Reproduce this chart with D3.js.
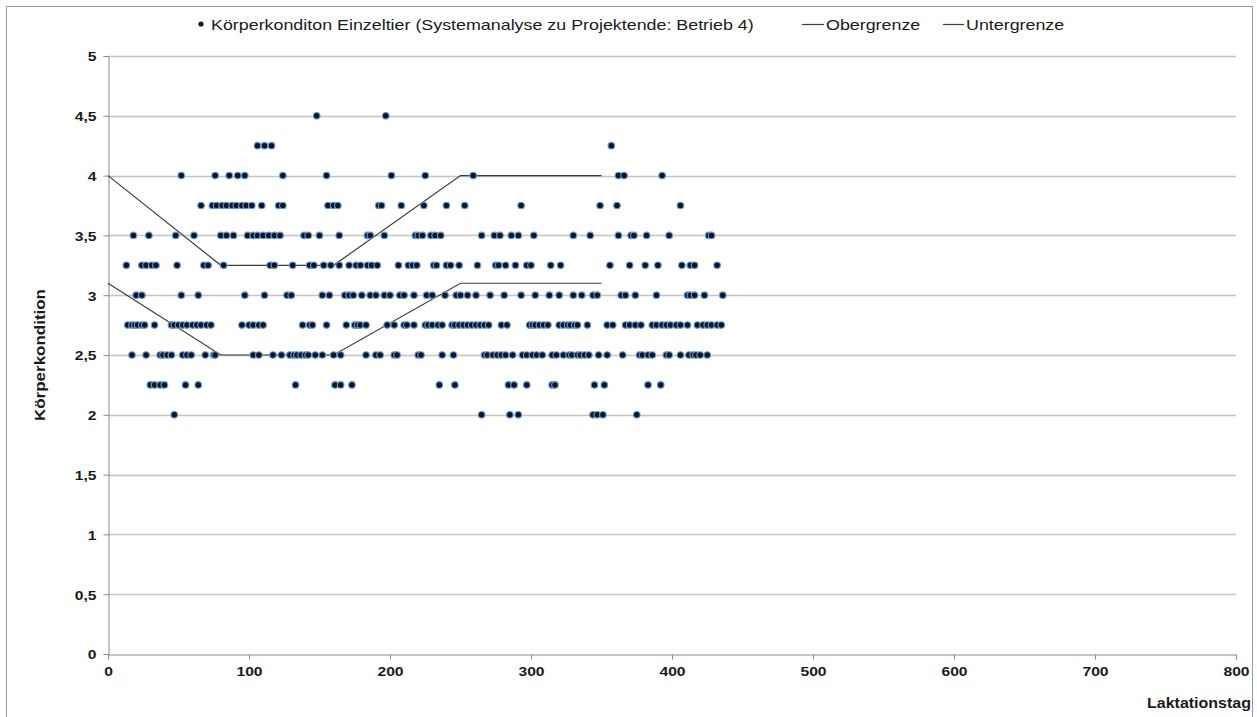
<!DOCTYPE html>
<html>
<head>
<meta charset="utf-8">
<script src="https://cdn.jsdelivr.net/npm/d3@7/dist/d3.min.js"></script>
<style>
  html, body { margin: 0; padding: 0; background: #fff; }
  svg { display: block; font-family: "Liberation Sans", Arial, sans-serif; }
</style>
</head>
<body>
<svg id="chart" width="1257" height="717"></svg>
<script>
// Body condition scores of individual cows, grouped by score level (Laktationstag values)
const bcs450 = [148, 197];
const bcs425 = [106, 111, 116, 357];
const bcs400 = [52, 76, 86, 92, 97, 124, 155, 201, 225, 259, 362, 366, 393];
const bcs375 = [66, 74, 77, 81, 84, 88, 91, 95, 98, 102, 109, 121, 124, 156, 160, 163, 192, 194, 208, 224, 240, 253, 293, 349, 361, 406];
const bcs350 = [18, 29, 48, 61, 80, 84, 89, 99, 103, 106, 110, 114, 118, 122, 139, 142, 150, 164, 184, 186, 196, 218, 220, 223, 229, 232, 236, 265, 274, 278, 286, 291, 302, 330, 342, 362, 371, 373, 382, 398, 426, 428];
const bcs325 = [13, 24, 27, 31, 34, 49, 68, 71, 82, 115, 118, 131, 143, 146, 153, 158, 164, 171, 176, 179, 184, 187, 191, 206, 213, 216, 219, 231, 233, 240, 243, 249, 262, 275, 277, 282, 289, 297, 300, 314, 321, 356, 370, 381, 390, 407, 413, 416, 432];
const bcs300 = [20, 24, 52, 64, 97, 111, 127, 130, 152, 157, 168, 171, 174, 180, 186, 190, 196, 200, 207, 210, 217, 226, 230, 239, 247, 250, 255, 261, 271, 281, 293, 303, 313, 320, 330, 336, 344, 347, 364, 367, 374, 389, 411, 413, 416, 423, 436];
const bcs275 = [14, 17, 19, 21, 24, 26, 33, 45, 47, 50, 53, 56, 60, 63, 66, 70, 73, 95, 100, 103, 107, 110, 138, 143, 145, 155, 169, 175, 177, 179, 183, 198, 203, 210, 212, 217, 225, 227, 230, 234, 237, 244, 246, 249, 252, 255, 258, 261, 264, 267, 270, 279, 283, 299, 301, 303, 306, 309, 312, 320, 323, 326, 328, 331, 333, 340, 354, 358, 367, 370, 374, 378, 386, 389, 393, 396, 399, 403, 406, 411, 418, 422, 425, 428, 432, 435];
const bcs250 = [17, 27, 37, 39, 42, 45, 53, 56, 59, 69, 75, 76, 103, 107, 117, 123, 129, 132, 134, 137, 140, 142, 147, 152, 160, 165, 183, 190, 193, 203, 205, 220, 222, 237, 245, 267, 269, 273, 276, 279, 282, 287, 294, 297, 301, 304, 308, 315, 318, 323, 327, 329, 333, 335, 338, 341, 348, 354, 365, 377, 379, 383, 386, 396, 398, 406, 412, 415, 417, 420, 425];
const bcs225 = [30, 33, 37, 40, 55, 64, 133, 161, 165, 173, 235, 246, 284, 288, 297, 315, 317, 345, 352, 383, 392];
const bcs200 = [47, 265, 285, 291, 344, 347, 351, 375];

// Target corridor (upper and lower limit)
const grenzeTage = [0, 80, 160, 250, 350];
const obergrenze = [4, 3.25, 3.25, 4, 4];
const untergrenze = [3.1, 2.5, 2.5, 3.1, 3.1];

// Axis ticks
const xTicks = [0, 100, 200, 300, 400, 500, 600, 700, 800];
const yTicks = [0, 0.5, 1, 1.5, 2, 2.5, 3, 3.5, 4, 4.5, 5];

const seriesName = "Körperkonditon Einzeltier (Systemanalyse zu Projektende: Betrieb 4)";

const levels = [
  [4.5, bcs450], [4.25, bcs425], [4, bcs400], [3.75, bcs375], [3.5, bcs350],
  [3.25, bcs325], [3, bcs300], [2.75, bcs275], [2.5, bcs250], [2.25, bcs225], [2, bcs200]
];
const points = levels.flatMap(([score, days]) => days.map(d => ({ tag: d, bcs: score })));

const svg = d3.select("#chart");
const plotLeft = 108, plotRight = 1236, plotTop = 56, plotBottom = 654;

const x = d3.scaleLinear().domain([0, 800]).range([plotLeft, plotRight]);
const y = d3.scaleLinear().domain([0, 5]).range([plotBottom, plotTop]);

const fmt = v => String(v).replace(".", ",");

// the chart's lettering runs a little wide: stretch glyphs horizontally
function widen(sel, factor) {
  sel.each(function () {
    const len = this.getComputedTextLength();
    d3.select(this).attr("textLength", len * factor).attr("lengthAdjust", "spacingAndGlyphs");
  });
}

// outer frame
svg.append("rect")
  .attr("x", 6.5).attr("y", 6.5).attr("width", 1246).attr("height", 720)
  .attr("fill", "none").attr("stroke", "#9a9a9a").attr("stroke-width", 1);

// horizontal grid
svg.append("g").selectAll("line").data(yTicks.filter(v => v > 0)).join("line")
  .attr("x1", plotLeft).attr("x2", plotRight)
  .attr("y1", d => Math.round(y(d)) + 0.5).attr("y2", d => Math.round(y(d)) + 0.5)
  .attr("stroke", "#c4c4c4").attr("stroke-width", 1.3);

// axes
const yAxis = svg.append("g")
  .attr("transform", `translate(${plotLeft + 0.5},0)`)
  .call(d3.axisLeft(y).tickValues(yTicks).tickFormat(fmt).tickSize(5).tickPadding(7));
const xAxis = svg.append("g")
  .attr("transform", `translate(0,${plotBottom + 0.5})`)
  .call(d3.axisBottom(x).tickValues(xTicks).tickFormat(d3.format("d")).tickSize(5).tickPadding(7));

[yAxis, xAxis].forEach(g => {
  g.select(".domain").attr("stroke", "#8c8c8c");
  g.selectAll(".tick line").attr("stroke", "#8c8c8c");
  g.selectAll(".tick text")
    .attr("fill", "#1a1a1a")
    .attr("font-size", 13.5).attr("font-weight", "bold")
    .attr("font-family", "'Liberation Sans', Arial, sans-serif");
  widen(g.selectAll(".tick text"), 1.16);
});
yAxis.selectAll(".tick text").attr("dy", "0.36em");

// limit lines
const line = d3.line().x((d, i) => x(grenzeTage[i])).y(d => y(d));
[obergrenze, untergrenze].forEach(vals => {
  svg.append("path").datum(vals)
    .attr("d", line)
    .attr("fill", "none").attr("stroke", "#3c3c3c").attr("stroke-width", 1.2);
});

// individual animals
svg.append("g").selectAll("circle").data(points).join("circle")
  .attr("cx", d => x(d.tag)).attr("cy", d => y(d.bcs))
  .attr("r", 3.3)
  .attr("fill", "#0b1628")
  .attr("stroke", "#6d9ad2").attr("stroke-width", 1.1);

// axis titles
const yTitle = svg.append("text")
  .attr("transform", `translate(45,355) rotate(-90)`)
  .attr("text-anchor", "middle")
  .attr("font-size", 15).attr("font-weight", "bold").attr("fill", "#1a1a1a")
  .text("Körperkondition");
yTitle.attr("textLength", 132).attr("lengthAdjust", "spacingAndGlyphs");
svg.append("text")
  .attr("x", 1251).attr("y", 708)
  .attr("text-anchor", "end")
  .attr("font-size", 15).attr("font-weight", "bold").attr("fill", "#1a1a1a")
  .attr("textLength", 104).attr("lengthAdjust", "spacingAndGlyphs")
  .text("Laktationstag");

// legend
const legend = svg.append("g").attr("font-size", 15).attr("fill", "#1a1a1a");
legend.append("circle").attr("cx", 201).attr("cy", 24).attr("r", 2.6).attr("fill", "#0b1628");
legend.append("text").attr("x", 211).attr("y", 29.5).text(seriesName);
legend.append("line").attr("x1", 802).attr("x2", 824).attr("y1", 24.5).attr("y2", 24.5)
  .attr("stroke", "#3c3c3c").attr("stroke-width", 1.2);
legend.append("text").attr("x", 826).attr("y", 29.5).text("Obergrenze");
legend.append("line").attr("x1", 943).attr("x2", 964).attr("y1", 24.5).attr("y2", 24.5)
  .attr("stroke", "#3c3c3c").attr("stroke-width", 1.2);
legend.append("text").attr("x", 966).attr("y", 29.5).text("Untergrenze");
widen(legend.selectAll("text"), 1.19);
</script>
</body>
</html>
